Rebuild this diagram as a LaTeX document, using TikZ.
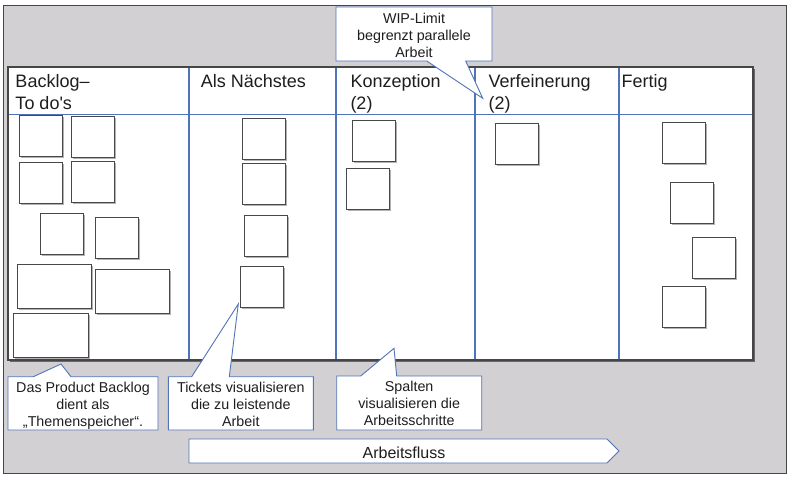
\documentclass[tikz,border=0pt]{standalone}
\usepackage{fontspec}
\setmainfont{Liberation Sans}
\usetikzlibrary{shadows}
\definecolor{bgray}{RGB}{211,208,211}
\definecolor{frameline}{RGB}{70,70,70}
\definecolor{blueline}{RGB}{80,116,184}
\definecolor{cardline}{RGB}{72,72,72}
\definecolor{txt}{RGB}{30,30,30}
\begin{document}
\begin{tikzpicture}[x=1pt,y=-1pt,
  card/.style={draw=cardline, line width=1pt, fill=white, minimum width=43pt, minimum height=41pt,
    inner sep=0pt, outer sep=0pt,
    drop shadow={shadow xshift=1.5pt, shadow yshift=-1.5pt, opacity=0.3, fill=black}},
  wide/.style={minimum width=74pt, minimum height=44pt},
  board/.style={draw=frameline, line width=1.2pt, fill=white, inner sep=0pt, outer sep=0pt,
    drop shadow={shadow xshift=2pt, shadow yshift=-2pt, opacity=0.5, fill=black}},
  colline/.style={draw=blueline, line width=1.2pt},
  callout/.style={draw=blueline, line width=0.9pt, fill=white, line join=miter},
  calltext/.style={font=\fontsize{14.3}{17}\selectfont, align=center, text=txt, inner sep=0pt},
  head/.style={font=\fontsize{18}{22}\selectfont, align=left, text=txt, inner sep=0pt},
  flowtext/.style={font=\fontsize{16}{19}\selectfont, text=txt, inner sep=0pt},
]
\useasboundingbox (0,0) rectangle (789,477);
\fill[white] (0,0) rectangle (789,477);
\draw[fill=bgray, draw=frameline, line width=1pt] (3,5) rectangle (786,473);

% board
\node[board, minimum width=745pt, minimum height=293pt] (board) at (380.5,213.5) {};
\draw[colline] (8.6,114.5) -- (752.4,114.5);
\foreach \cx in {189,336,475,619} {\draw[colline] (\cx,67.6) -- (\cx,359.4);}

% headers
\node[head, anchor=north west] (h1) at (15.3,74.3) {Backlog--\\To do\textquotesingle s};
\node[head, anchor=base west] (h2) at (200.7,87.3) {Als Nächstes};
\node[head, anchor=north west] (h3) at (350.3,74.3) {Konzeption\\(2)};
\node[head, anchor=north west] (h4) at (488.3,74.6) {Verfeinerung\\(2)};
\node[head, anchor=base west] (h5) at (621.3,87.3) {Fertig};

% backlog cards
\node[card] (b1) at (40.5,136) {};
\node[card] (b2) at (93,136.5) {};
\node[card] (b3) at (40.5,183) {};
\node[card] (b4) at (92.5,182) {};
\node[card] (b5) at (62,234) {};
\node[card] (b6) at (116.5,238) {};
\node[card, wide] (b7) at (54,286) {};
\node[card, wide] (b8) at (132,291) {};
\node[card, wide, minimum width=75pt] (b9) at (50.5,335) {};
% als naechstes
\node[card] (a1) at (263.5,138.5) {};
\node[card] (a2) at (263.5,184) {};
\node[card] (a3) at (265.5,236) {};
\node[card] (a4) at (261.5,286.5) {};
% konzeption
\node[card] (k1) at (374,141) {};
\node[card] (k2) at (367.5,189) {};
% verfeinerung
\node[card] (v1) at (516.5,143.5) {};
% fertig
\node[card] (f1) at (684,142.5) {};
\node[card] (f2) at (691.5,202.5) {};
\node[card] (f3) at (714,258) {};
\node[card] (f4) at (684,306.5) {};

% callouts
\draw[callout] (336,7) -- (492,7) -- (492,61) -- (465.7,61) -- (482.7,98.3) -- (426.7,61) -- (336,61) -- cycle;
\node[calltext, anchor=north] (t4) at (414,13) {WIP-Limit\\begrenzt parallele\\Arbeit};

\draw[callout] (8,430) -- (8,376.7) -- (33.3,376.7) -- (61,364) -- (71,376.7) -- (158,376.7) -- (158,430) -- cycle;
\node[calltext, anchor=north] (t1) at (83,382.3) {Das Product Backlog\\dient als\\„Themenspeicher“.};

\draw[callout] (168.3,430) -- (168.3,376.7) -- (191.7,376.7) -- (238.3,304) -- (229.3,376.7) -- (313.3,376.7) -- (313.3,430) -- cycle;
\node[calltext, anchor=north] (t2) at (240.8,382.3) {Tickets visualisieren\\die zu leistende\\Arbeit};

\draw[callout] (336.7,430) -- (336.7,376) -- (360.7,376) -- (394,348.3) -- (396.7,376) -- (481.7,376) -- (481.7,430) -- cycle;
\node[calltext, anchor=north] (t3) at (409.2,381.3) {Spalten\\visualisieren die\\Arbeitsschritte};

% flow arrow
\draw[callout] (189,439) -- (607,439) -- (619,451) -- (607,463) -- (189,463) -- cycle;
\node[flowtext] (flow) at (404,452.5) {Arbeitsfluss};
\end{tikzpicture}
\end{document}
